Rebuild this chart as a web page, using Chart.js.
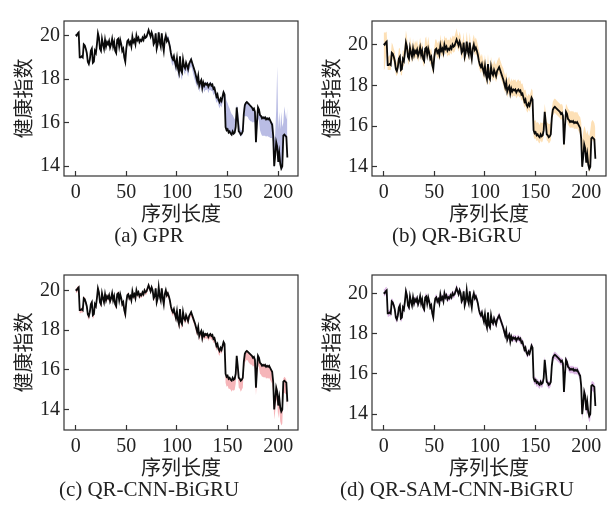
<!DOCTYPE html>
<html><head><meta charset="utf-8">
<script src="https://cdn.jsdelivr.net/npm/chart.js@4.4.1/dist/chart.umd.min.js"></script>
<style>
html,body{margin:0;padding:0;background:#fff;}
#wrap{position:relative;width:616px;height:508px;background:#fff;}
.cell{position:absolute;width:308px;height:254px;}
canvas{display:block;}
</style></head><body>
<div id="wrap">
<div class="cell" style="left:0;top:0"><canvas id="c0" width="308" height="254"></canvas></div>
<div class="cell" style="left:308px;top:0"><canvas id="c1" width="308" height="254"></canvas></div>
<div class="cell" style="left:0;top:254px"><canvas id="c2" width="308" height="254"></canvas></div>
<div class="cell" style="left:308px;top:254px"><canvas id="c3" width="308" height="254"></canvas></div>
</div>
<script>
// 健康指数 (actual series), index = 序列长度 0..209
const healthIndex = [
20.05,20.0,20.1,20.15,19.0,19.0,19.05,19.0,19.6,19.55,
19.4,19.2,18.8,18.7,18.9,19.3,19.4,18.75,18.8,19.3,
19.2,19.6,20.1,19.9,19.4,19.3,19.85,19.6,19.4,19.8,
19.5,19.7,19.6,19.75,19.45,19.6,19.85,19.5,19.7,19.3,
19.2,19.8,19.85,19.5,19.8,19.6,19.3,19.4,19.0,18.8,
19.4,19.75,19.8,19.6,19.7,19.5,19.95,19.7,19.8,19.6,
20.0,19.8,19.9,19.7,19.8,19.75,19.9,19.8,20.0,19.9,
19.95,20.1,20.25,20.1,19.95,20.15,20.0,19.6,19.7,20.1,
19.4,19.6,20.15,19.7,19.5,20.1,19.6,19.3,19.8,20.0,
19.75,19.85,19.7,19.5,19.2,19.0,18.9,19.05,18.8,18.6,
18.95,18.5,18.3,19.05,18.4,18.3,18.9,18.6,18.5,18.75,
18.6,18.45,18.7,18.8,18.9,18.75,18.6,18.45,18.3,18.1,
17.9,18.15,17.7,17.85,17.95,17.6,17.85,17.7,17.8,17.75,
17.8,17.65,17.75,17.8,17.7,17.75,17.55,17.6,17.4,17.2,
17.3,17.05,16.95,17.1,17.0,17.2,17.4,17.3,15.8,15.65,
15.7,15.55,15.6,15.5,15.45,15.6,15.5,15.55,15.8,16.7,
16.2,15.6,15.55,15.45,15.5,15.6,16.4,16.8,16.9,16.95,
16.9,16.85,16.8,16.75,16.7,16.6,16.65,16.5,15.1,16.0,
16.7,16.6,16.35,16.3,16.2,16.25,16.2,16.25,16.15,16.2,
16.15,16.2,16.1,16.0,15.9,15.4,14.0,14.5,15.1,14.9,
14.2,14.6,14.1,13.9,14.0,15.4,15.45,15.4,15.35,14.4];

// (a) GPR interval: distance above / below the actual value
const gprUp = [
.05,.05,.05,.05,.05,.05,.05,.05,.05,.05,
.05,.05,.05,.05,.05,.05,.05,.05,.05,.05,
.05,.05,.08,.05,.05,.05,.05,.05,.05,.05,
.05,.05,.05,.05,.05,.05,.05,.05,.05,.05,
.05,.05,.05,.05,.05,.05,.05,.05,.05,.05,
.05,.05,.05,.05,.05,.05,.05,.05,.05,.05,
.05,.05,.05,.05,.05,.05,.05,.05,.05,.05,
.05,.05,.08,.05,.05,.05,.05,.05,.05,.05,
.05,.05,.08,.05,.05,.08,.05,.05,.05,.1,
.15,.15,.2,.2,.2,.15,.1,.1,.1,.1,
.1,.1,.1,.1,.15,.1,.1,.1,.1,.1,
.1,.1,.1,.1,.1,.1,.1,.1,.1,.1,
.1,.1,.1,.1,.1,.1,.1,.1,.1,.1,
.1,.1,.1,.1,.1,.1,.1,.1,.1,.1,
.1,.1,.1,.1,.1,.15,.1,.1,1.4,1.35,
1.2,1.2,1.05,1.0,.95,.75,.75,.6,.5,.1,
.5,.6,.3,.2,.15,.15,.3,.1,.05,.05,
.05,.05,.05,.05,.05,.05,.05,.05,.6,.4,
.05,.05,.05,.05,.05,.05,.05,.05,.05,.05,
.05,.05,.05,.05,.1,.6,1.2,1.0,1.5,3.7,
1.5,1.9,1.6,2.6,1.8,.6,1.3,1.0,.8,2.3];
const gprLo = [
.05,.05,.05,.05,.05,.05,.05,.05,.05,.05,
.05,.05,.08,.08,.05,.05,.05,.05,.05,.05,
.05,.05,.05,.05,.05,.05,.05,.05,.05,.05,
.05,.05,.05,.05,.05,.05,.05,.05,.05,.05,
.05,.05,.05,.05,.05,.05,.05,.05,.05,.08,
.05,.05,.05,.05,.05,.05,.05,.05,.05,.05,
.05,.05,.05,.05,.05,.05,.05,.05,.05,.05,
.05,.05,.05,.05,.05,.05,.05,.05,.05,.05,
.05,.05,.05,.05,.05,.05,.05,.05,.05,.05,
.05,.05,.05,.2,.3,.3,.3,.25,.3,.3,
.3,.35,.3,.25,.3,.35,.3,.3,.3,.3,
.3,.35,.3,.3,.3,.3,.35,.4,.4,.35,
.3,.3,.3,.25,.3,.3,.25,.3,.3,.25,
.25,.3,.25,.3,.25,.3,.3,.25,.3,.3,
.3,.25,.3,.3,.3,.3,.2,.2,.05,.05,
.05,.05,.05,.05,.05,.05,.05,.05,.05,.3,
.1,.1,.1,.1,.1,.1,.1,.5,.6,.65,
.65,.7,.7,.7,.65,.6,.6,.5,.1,.4,
.5,.55,.7,.8,.8,.85,.8,.85,.8,.8,
.8,.85,.8,.7,.6,.3,.1,.1,.1,.1,
.1,.1,.1,.1,.1,.1,.1,.1,.1,.1];

// (b) QR-BiGRU interval
const qrBiGruUp = [
.55,.6,.5,.5,.45,.4,.45,.45,.5,.45,
.4,.45,.45,.4,.45,.5,.45,.45,.4,.45,
.45,.5,.6,.5,.45,.45,.55,.45,.4,.5,
.45,.5,.45,.5,.45,.45,.5,.45,.45,.4,
.45,.5,.55,.5,.6,.45,.4,.45,.4,.45,
.45,.5,.45,.45,.5,.45,.55,.45,.5,.45,
.45,.5,.45,.5,.45,.45,.5,.45,.45,.5,
.45,.5,.55,.45,.45,.5,.45,.45,.5,.5,
.45,.5,.5,.45,.45,.5,.45,.45,.5,.5,
.5,.5,.5,.5,.55,.55,.5,.5,.5,.55,
.55,.5,.55,.5,.5,.55,.5,.5,.5,.5,
.5,.55,.5,.5,.5,.5,.5,.5,.55,.55,
.55,.5,.55,.5,.5,.55,.5,.5,.5,.5,
.5,.5,.5,.5,.5,.5,.5,.5,.5,.55,
.5,.5,.5,.5,.5,.45,.45,.45,.55,.6,
.6,.6,.6,.65,.6,.6,.65,.6,.55,.4,
.5,.6,.6,.65,.6,.6,.45,.4,.4,.4,
.4,.4,.4,.4,.4,.45,.45,.45,.6,.6,
.4,.4,.5,.5,.5,.5,.5,.5,.5,.5,
.5,.5,.5,.5,.55,.8,1.3,1.2,.9,1.0,
1.4,1.2,1.5,1.6,1.8,.8,.85,.85,.8,1.5];
const qrBiGruLo = [
1.3,1.2,.8,.5,.25,.25,.3,.25,.3,.3,
.3,.3,.25,.25,.3,.3,.3,.25,.3,.3,
.3,.3,.3,.3,.3,.3,.3,.3,.3,.3,
.3,.3,.3,.3,.3,.3,.3,.3,.3,.3,
.3,.3,.3,.3,.3,.3,.3,.3,.3,.25,
.3,.3,.3,.3,.3,.3,.3,.3,.3,.3,
.3,.3,.3,.3,.3,.3,.3,.3,.3,.3,
.3,.3,.3,.3,.3,.3,.3,.3,.3,.3,
.3,.3,.3,.3,.3,.3,.3,.3,.3,.3,
.3,.3,.3,.3,.3,.3,.3,.3,.3,.3,
.3,.3,.3,.3,.3,.3,.3,.3,.3,.3,
.3,.3,.3,.3,.3,.3,.3,.3,.3,.3,
.3,.3,.3,.3,.3,.3,.3,.3,.3,.3,
.3,.3,.3,.3,.3,.3,.3,.3,.3,.3,
.3,.3,.3,.3,.3,.3,.3,.3,.3,.3,
.3,.3,.3,.3,.3,.3,.3,.3,.3,.3,
.3,.3,.3,.3,.3,.3,.3,.3,.3,.3,
.3,.3,.3,.3,.3,.3,.3,.3,.3,.3,
.3,.3,.3,.3,.3,.3,.3,.3,.3,.3,
.3,.3,.3,.3,.3,.25,.15,.15,.15,.15,
.15,.15,.15,.15,.15,.15,.15,.15,.15,.15];

// (c) QR-CNN-BiGRU interval
const qrCnnUp = [
.1,.1,.1,.1,.1,.1,.1,.1,.1,.1,
.1,.1,.1,.1,.1,.1,.1,.1,.1,.1,
.1,.1,.1,.1,.1,.1,.1,.1,.1,.1,
.1,.1,.1,.1,.1,.1,.1,.1,.1,.1,
.1,.1,.1,.1,.1,.1,.1,.1,.1,.1,
.1,.1,.1,.1,.1,.1,.1,.1,.1,.1,
.1,.1,.1,.1,.1,.1,.1,.1,.1,.1,
.1,.1,.1,.1,.1,.1,.1,.1,.1,.1,
.1,.1,.1,.1,.1,.1,.1,.1,.1,.1,
.1,.1,.1,.06,.06,.06,.06,.06,.06,.06,
.06,.06,.06,.06,.06,.06,.06,.06,.06,.06,
.06,.06,.06,.06,.06,.06,.06,.06,.06,.06,
.06,.06,.06,.06,.06,.06,.06,.06,.06,.06,
.06,.06,.06,.06,.06,.06,.06,.06,.06,.06,
.06,.06,.06,.06,.06,.06,.06,.06,.05,.05,
.05,.05,.05,.05,.05,.05,.05,.05,.05,.05,
.05,.05,.05,.05,.05,.05,.05,.05,.05,.05,
.05,.05,.05,.05,.05,.05,.05,.05,.05,.05,
.05,.05,.05,.05,.05,.05,.05,.05,.05,.05,
.05,.05,.05,.05,.05,.15,.15,.15,.15,.15,
.15,.15,.15,.15,.15,.15,.2,.2,.15,.15];
const qrCnnLo = [
.15,.15,.15,.15,.15,.15,.15,.15,.15,.15,
.15,.15,.2,.2,.15,.15,.15,.2,.15,.15,
.15,.15,.15,.15,.15,.15,.15,.15,.15,.15,
.15,.15,.15,.15,.15,.15,.15,.15,.15,.15,
.15,.15,.15,.15,.15,.15,.15,.15,.2,.2,
.15,.15,.15,.15,.15,.15,.15,.15,.15,.15,
.15,.15,.15,.15,.15,.15,.15,.15,.15,.15,
.15,.15,.15,.15,.15,.15,.15,.15,.15,.15,
.15,.15,.15,.15,.15,.15,.15,.15,.15,.15,
.15,.15,.15,.2,.2,.2,.2,.2,.2,.2,
.2,.2,.25,.2,.2,.25,.2,.2,.2,.2,
.2,.2,.2,.2,.2,.2,.2,.2,.2,.25,
.2,.2,.25,.2,.2,.25,.2,.2,.2,.2,
.2,.2,.2,.2,.2,.2,.2,.2,.2,.25,
.2,.25,.25,.2,.2,.2,.2,.2,.45,.5,
.5,.5,.55,.5,.55,.6,.55,.55,.5,.4,
.45,.5,.5,.55,.5,.5,.4,.45,.45,.45,
.45,.5,.5,.5,.45,.45,.45,.45,.4,.45,
.45,.5,.55,.55,.55,.6,.6,.6,.6,.6,
.6,.6,.6,.6,.6,.55,.5,.6,.6,.6,
.65,.6,.7,.7,.7,.6,.6,.6,.6,.65];

// (d) QR-SAM-CNN-BiGRU interval
const qrSamUp = [
.2,.2,.2,.18,.16,.16,.16,.16,.16,.16,
.16,.16,.16,.16,.16,.16,.16,.16,.16,.16,
.16,.17,.18,.17,.16,.16,.16,.16,.16,.16,
.16,.16,.16,.16,.16,.16,.16,.16,.16,.16,
.16,.16,.16,.16,.16,.16,.16,.16,.16,.16,
.16,.16,.16,.16,.16,.16,.16,.16,.16,.16,
.16,.16,.16,.16,.16,.16,.16,.16,.16,.16,
.17,.18,.2,.18,.17,.17,.16,.16,.16,.16,
.16,.16,.16,.16,.16,.16,.16,.16,.16,.16,
.16,.16,.16,.16,.16,.16,.16,.16,.16,.16,
.16,.16,.16,.16,.16,.16,.16,.16,.16,.16,
.16,.16,.16,.16,.16,.16,.16,.16,.16,.16,
.16,.16,.16,.16,.16,.16,.16,.16,.16,.16,
.16,.16,.16,.16,.16,.16,.16,.16,.16,.16,
.16,.16,.16,.16,.16,.16,.16,.16,.16,.16,
.16,.16,.16,.16,.16,.16,.16,.16,.16,.16,
.16,.16,.16,.16,.16,.16,.16,.16,.16,.16,
.16,.16,.16,.16,.16,.16,.16,.16,.16,.16,
.16,.16,.16,.16,.16,.16,.16,.16,.16,.16,
.16,.16,.16,.16,.16,.2,.2,.2,.2,.2,
.2,.2,.2,.2,.2,.2,.2,.2,.2,.2];
const qrSamLo = [
.16,.16,.16,.16,.16,.16,.16,.16,.16,.16,
.16,.16,.18,.18,.16,.16,.16,.18,.16,.16,
.16,.16,.16,.16,.16,.16,.16,.16,.16,.16,
.16,.16,.16,.16,.16,.16,.16,.16,.16,.16,
.16,.16,.16,.16,.16,.16,.16,.16,.18,.18,
.16,.16,.16,.16,.16,.16,.16,.16,.16,.16,
.16,.16,.16,.16,.16,.16,.16,.16,.16,.16,
.16,.16,.16,.16,.16,.16,.16,.16,.16,.16,
.16,.16,.16,.16,.16,.16,.16,.16,.16,.16,
.16,.16,.16,.16,.16,.16,.16,.16,.16,.16,
.16,.16,.18,.16,.16,.16,.16,.16,.16,.16,
.16,.16,.16,.16,.16,.16,.16,.16,.16,.16,
.16,.16,.16,.16,.16,.16,.16,.16,.16,.16,
.16,.16,.16,.16,.16,.16,.16,.16,.16,.16,
.16,.16,.16,.16,.16,.16,.16,.16,.2,.2,
.2,.2,.2,.2,.2,.2,.2,.2,.2,.2,
.2,.2,.2,.2,.2,.2,.2,.2,.2,.2,
.2,.2,.2,.2,.2,.2,.2,.2,.2,.2,
.2,.2,.2,.2,.2,.2,.2,.2,.2,.2,
.2,.2,.2,.2,.2,.3,.3,.3,.3,.3,
.3,.3,.3,.3,.3,.3,.3,.3,.3,.3];

const captions = ['(a) GPR','(b) QR-BiGRU','(c) QR-CNN-BiGRU','(d) QR-SAM-CNN-BiGRU'];
const xTicks = [0,50,100,150,200];
const yTicks = [14,16,18,20];
const xLabel = '序列长度';
const yLabel = '健康指数';

const boxPlugin = {
  id:'box',
  afterDraw(chart){
    const {ctx, chartArea:{left,top,right,bottom}} = chart;
    ctx.save();
    ctx.strokeStyle = '#333';
    ctx.lineWidth = 1.2;
    ctx.strokeRect(left, top, right-left, bottom-top);
    ctx.restore();
  }
};

function pts(arr){ return arr.map((v,i)=>({x:i, y:v})); }

function panel(id, caption, up, lo, color, yMin, yMax, topPad){
  const upper = healthIndex.map((v,i)=>v+up[i]);
  const lower = healthIndex.map((v,i)=>v-lo[i]);
  new Chart(document.getElementById(id), {
    type:'line',
    data:{datasets:[
      {label:'实际值', data:pts(healthIndex), borderColor:'#0a0a0a', borderWidth:1.8, pointRadius:0, fill:false, tension:0},
      {label:'上界', data:pts(upper), borderColor:'rgba(0,0,0,0)', borderWidth:0, pointRadius:0, backgroundColor:color, fill:'+1', tension:0},
      {label:'下界', data:pts(lower), borderColor:'rgba(0,0,0,0)', borderWidth:0, pointRadius:0, fill:false, tension:0}
    ]},
    options:{
      responsive:false, animation:false, devicePixelRatio:1,
      layout:{padding:{left:0,right:10,top:topPad,bottom:0}},
      plugins:{
        legend:{display:false}, tooltip:{enabled:false},
        title:{display:true, position:'bottom', text:caption, color:'#222',
          font:{family:'Liberation Serif', size:21, weight:'normal'}, padding:{top:0,bottom:5}}
      },
      scales:{
        x:{type:'linear', min:-11.5, max:219.5,
          afterBuildTicks:s=>{ s.ticks = xTicks.map(v=>({value:v})); },
          afterFit:s=>{ s.height = 47.8; },
          grid:{display:true, drawOnChartArea:false, drawTicks:true, tickLength:-5, tickColor:'#333', tickWidth:1.2},
          border:{display:false},
          ticks:{padding:9.5, color:'#222', maxRotation:0, autoSkip:false, font:{family:'Liberation Serif', size:20}},
          title:{display:true, text:xLabel, color:'#222', font:{family:'Noto Sans CJK SC', size:20}, padding:{top:0,bottom:-1.5}}
        },
        y:{type:'linear', min:yMin, max:yMax,
          afterBuildTicks:s=>{ s.ticks = yTicks.map(v=>({value:v})); },
          afterFit:s=>{ s.width = 64; },
          grid:{display:true, drawOnChartArea:false, drawTicks:true, tickLength:-5, tickColor:'#333', tickWidth:1.2},
          border:{display:false},
          ticks:{padding:9, color:'#222', font:{family:'Liberation Serif', size:20}},
          title:{display:true, text:yLabel, color:'#222', font:{family:'Noto Sans CJK SC', size:20}, padding:{top:11,bottom:0}}
        }
      }
    },
    plugins:[boxPlugin]
  });
}

panel('c0', captions[0], gprUp, gprLo, '#b9bce4', 13.55, 20.67, 5);
panel('c1', captions[1], qrBiGruUp, qrBiGruLo, '#fde0b6', 13.55, 21.16, 5);
panel('c2', captions[2], qrCnnUp, qrCnnLo, '#f6b5b9', 12.97, 20.77, 6);
panel('c3', captions[3], qrSamUp, qrSamLo, '#dcb6e4', 13.21, 20.91, 6);
</script>
</body></html>
